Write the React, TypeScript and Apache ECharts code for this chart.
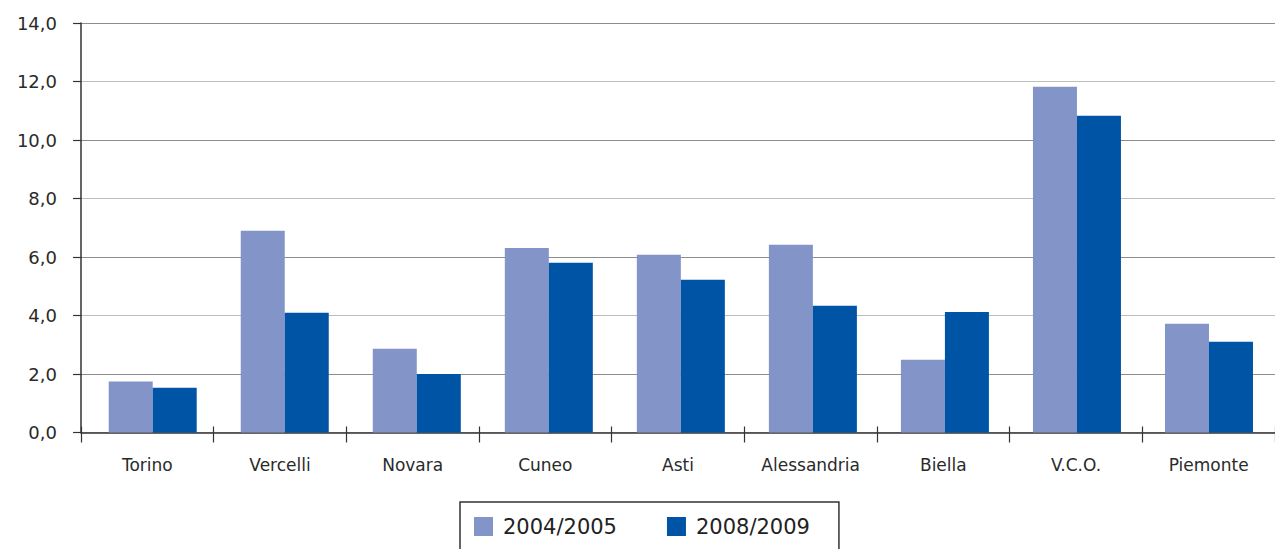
import React, { useEffect, useRef } from "react";
import * as echarts from "echarts";

const categories = ["Torino", "Vercelli", "Novara", "Cuneo", "Asti", "Alessandria", "Biella", "V.C.O.", "Piemonte"];
const seriesNames = ["2004/2005", "2008/2009"];
const values2004 = [1.74, 6.9, 2.86, 6.31, 6.08, 6.42, 2.49, 11.82, 3.72];
const values2008 = [1.53, 4.09, 2.0, 5.8, 5.22, 4.33, 4.12, 10.83, 3.1];
const colors = ["#8394c8", "#0054a5"];
const yMin = 0;
const yMax = 14;
const yInterval = 2;

const FONT = "DejaVu Sans";

export default function App() {
  const ref = useRef<HTMLDivElement>(null);
  useEffect(() => {
    if (!ref.current) return;
    const chart = echarts.init(ref.current, undefined, { renderer: "svg" });
    chart.setOption({
      animation: false,
      backgroundColor: "#ffffff",
      textStyle: { fontFamily: FONT },
      grid: [
        { left: 81, top: 23, width: 1201, height: 409.5, containLabel: false },
        { left: 86.7, top: 23, width: 1193.6, height: 409.5, containLabel: false },
      ],
      legend: {
        left: 460,
        top: 502,
        orient: "horizontal",
        itemWidth: 19,
        itemHeight: 19,
        itemGap: 50,
        padding: [14, 29, 40, 14],
        borderColor: "#333333",
        borderWidth: 1.5,
        icon: "rect",
        textStyle: { fontFamily: FONT, fontSize: 21, color: "#222222", padding: [0, 0, 0, 5] },
        data: seriesNames,
      },
      xAxis: [
        {
          type: "category",
          gridIndex: 0,
          data: categories,
          position: "bottom",
          axisLine: { lineStyle: { color: "#333333", width: 1.5 } },
          axisTick: { show: true, length: 10, lineStyle: { color: "#333333", width: 1.2 } },
          axisLabel: { fontFamily: FONT, fontSize: 17, color: "#2a2a2a", margin: 24 },
        },
        {
          type: "category",
          gridIndex: 0,
          data: categories,
          position: "bottom",
          offset: 0,
          axisLine: { show: false },
          axisTick: { show: true, inside: true, length: 6, lineStyle: { color: "#333333", width: 1.2 } },
          axisLabel: { show: false },
        },
        {
          type: "category",
          gridIndex: 1,
          data: categories,
          show: false,
        },
      ],
      yAxis: [
        {
          type: "value",
          gridIndex: 0,
          min: yMin,
          max: yMax,
          interval: yInterval,
          axisLine: { show: true, lineStyle: { color: "#333333", width: 1.5 } },
          axisTick: { show: true, length: 8, lineStyle: { color: "#333333", width: 1.2 } },
          axisLabel: {
            fontFamily: FONT,
            fontSize: 18,
            color: "#2a2a2a",
            margin: 24,
            formatter: (v: number) => v.toFixed(1).replace(".", ","),
          },
          splitLine: { show: true, lineStyle: { color: ["#bdbdbd", "#8c8c8c"], width: 1 } },
        },
        {
          type: "value",
          gridIndex: 1,
          min: yMin,
          max: yMax,
          interval: yInterval,
          show: false,
          splitLine: { show: false },
        },
      ],
      series: [
        {
          name: seriesNames[0],
          type: "bar",
          xAxisIndex: 2,
          yAxisIndex: 1,
          data: values2004,
          barWidth: 44,
          barGap: "0%",
          itemStyle: { color: colors[0] },
          z: 1,
        },
        {
          name: seriesNames[1],
          type: "bar",
          xAxisIndex: 2,
          yAxisIndex: 1,
          data: values2008,
          barWidth: 44,
          barGap: "0%",
          itemStyle: { color: colors[1] },
          z: 1,
        },
      ],
    });
    return () => chart.dispose();
  }, []);
  return (
    <div
      ref={ref}
      style={{ position: "fixed", left: 0, top: 0, width: 1275, height: 549, background: "#fff" }}
    />
  );
}
